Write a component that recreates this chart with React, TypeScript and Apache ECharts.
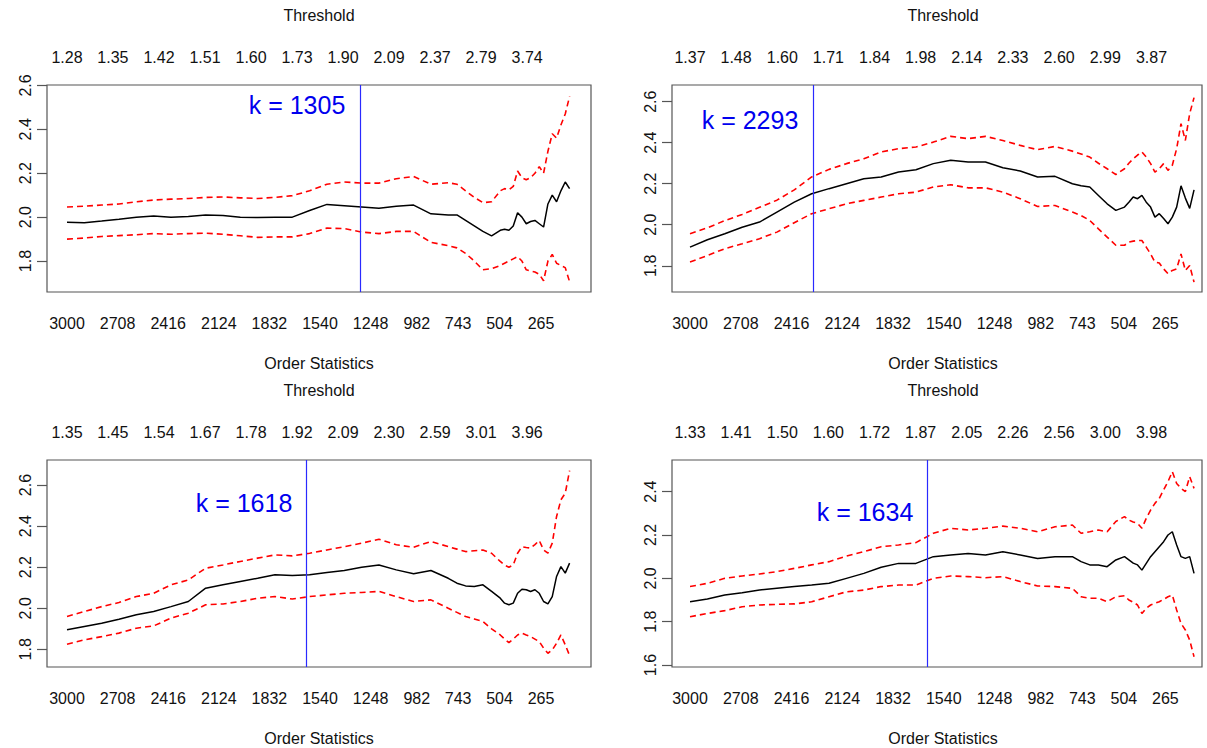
import React, { useEffect, useRef } from "react";
import * as echarts from "echarts";

const kGrid = [3000, 2900, 2800, 2700, 2600, 2500, 2400, 2300, 2200, 2100, 2000, 1900, 1800, 1700, 1600, 1500, 1400, 1300, 1200, 1100, 1000, 900, 800, 750, 700, 650, 600, 550, 500, 475, 450, 425, 400, 375, 350, 325, 300, 275, 250, 225, 200, 175, 150, 125, 100];

// Bottom axis tick labels (order statistics)
const orderTicks = [3000, 2708, 2416, 2124, 1832, 1540, 1248, 982, 743, 504, 265];
// Positions (in k) of the top "Threshold" labels
const thresholdPos = [3000, 2735, 2469, 2204, 1938, 1673, 1407, 1142, 876, 611, 345];

const thresholdTL = ["1.28", "1.35", "1.42", "1.51", "1.60", "1.73", "1.90", "2.09", "2.37", "2.79", "3.74"];
const thresholdTR = ["1.37", "1.48", "1.60", "1.71", "1.84", "1.98", "2.14", "2.33", "2.60", "2.99", "3.87"];
const thresholdBL = ["1.35", "1.45", "1.54", "1.67", "1.78", "1.92", "2.09", "2.30", "2.59", "3.01", "3.96"];
const thresholdBR = ["1.33", "1.41", "1.50", "1.60", "1.72", "1.87", "2.05", "2.26", "2.56", "3.00", "3.98"];

const kOpt = [1305, 2293, 1618, 1634];

const yTicksA = [1.8, 2.0, 2.2, 2.4, 2.6];
const yTicksB = [1.6, 1.8, 2.0, 2.2, 2.4];

// Top-left panel
const tlMid = [1.977, 1.975, 1.982, 1.99, 2.0, 2.005, 2.0, 2.003, 2.01, 2.008, 2.0, 1.998, 2.0, 2.0, 2.03, 2.058, 2.052, 2.046, 2.04, 2.05, 2.055, 2.015, 2.01, 2.01, 1.985, 1.96, 1.935, 1.915, 1.94, 1.945, 1.94, 1.96, 2.02, 2.0, 1.97, 1.98, 1.985, 1.97, 1.955, 2.06, 2.1, 2.07, 2.12, 2.16, 2.13];
const tlUp = [2.046, 2.05, 2.055, 2.06, 2.07, 2.078, 2.082, 2.085, 2.09, 2.092, 2.088, 2.085, 2.09, 2.098, 2.12, 2.15, 2.16, 2.155, 2.155, 2.175, 2.185, 2.15, 2.157, 2.15, 2.12, 2.09, 2.066, 2.07, 2.12, 2.13, 2.125, 2.14, 2.21, 2.18, 2.17, 2.18, 2.2, 2.23, 2.2, 2.3, 2.38, 2.36, 2.42, 2.47, 2.55];
const tlLo = [1.9, 1.905, 1.912, 1.916, 1.92, 1.925, 1.922, 1.925, 1.927, 1.922, 1.915, 1.908, 1.91, 1.91, 1.925, 1.95, 1.948, 1.932, 1.925, 1.935, 1.935, 1.885, 1.87, 1.86, 1.835, 1.8, 1.76, 1.765, 1.78, 1.79, 1.8, 1.81, 1.82, 1.8, 1.76, 1.755, 1.75, 1.74, 1.71, 1.8, 1.83, 1.79, 1.78, 1.77, 1.706];

// Top-right panel
const trMid = [1.891, 1.927, 1.956, 1.988, 2.013, 2.062, 2.11, 2.151, 2.176, 2.2, 2.224, 2.233, 2.257, 2.268, 2.298, 2.314, 2.306, 2.306, 2.278, 2.262, 2.233, 2.236, 2.2, 2.19, 2.184, 2.143, 2.102, 2.07, 2.086, 2.11, 2.135, 2.127, 2.143, 2.11, 2.086, 2.037, 2.054, 2.03, 2.005, 2.037, 2.086, 2.19, 2.13, 2.08, 2.17];
const trUp = [1.956, 1.985, 2.02, 2.05, 2.085, 2.12, 2.17, 2.233, 2.27, 2.298, 2.322, 2.355, 2.371, 2.379, 2.403, 2.431, 2.42, 2.431, 2.411, 2.387, 2.366, 2.382, 2.359, 2.345, 2.33, 2.3, 2.273, 2.245, 2.273, 2.3, 2.322, 2.34, 2.355, 2.33, 2.298, 2.257, 2.273, 2.298, 2.265, 2.29, 2.371, 2.493, 2.411, 2.542, 2.62];
const trLo = [1.818, 1.85, 1.883, 1.907, 1.932, 1.964, 2.01, 2.054, 2.078, 2.102, 2.119, 2.135, 2.151, 2.159, 2.184, 2.195, 2.18, 2.18, 2.159, 2.127, 2.089, 2.094, 2.062, 2.045, 2.021, 1.98, 1.94, 1.9, 1.9, 1.915, 1.92, 1.923, 1.923, 1.891, 1.858, 1.818, 1.813, 1.785, 1.761, 1.777, 1.785, 1.858, 1.777, 1.801, 1.72];

// Bottom-left panel
const blMid = [1.895, 1.911, 1.927, 1.947, 1.968, 1.984, 2.008, 2.033, 2.098, 2.114, 2.13, 2.146, 2.163, 2.16, 2.163, 2.174, 2.184, 2.2, 2.211, 2.187, 2.168, 2.184, 2.146, 2.122, 2.109, 2.106, 2.114, 2.082, 2.049, 2.025, 2.017, 2.025, 2.073, 2.093, 2.09, 2.082, 2.09, 2.073, 2.033, 2.021, 2.057, 2.155, 2.203, 2.171, 2.22];
const blUp = [1.96, 1.984, 2.008, 2.028, 2.057, 2.073, 2.114, 2.138, 2.195, 2.211, 2.228, 2.244, 2.26, 2.255, 2.268, 2.284, 2.3, 2.317, 2.336, 2.309, 2.297, 2.325, 2.3, 2.288, 2.276, 2.28, 2.284, 2.268, 2.228, 2.21, 2.2, 2.211, 2.268, 2.3, 2.296, 2.293, 2.31, 2.33, 2.284, 2.268, 2.317, 2.447, 2.528, 2.56, 2.67];
const blLo = [1.825, 1.846, 1.862, 1.879, 1.903, 1.914, 1.952, 1.976, 2.017, 2.021, 2.033, 2.049, 2.057, 2.045, 2.057, 2.065, 2.073, 2.077, 2.082, 2.057, 2.033, 2.041, 2.0, 1.98, 1.96, 1.948, 1.935, 1.9, 1.87, 1.85, 1.833, 1.85, 1.87, 1.879, 1.87, 1.862, 1.85, 1.838, 1.806, 1.781, 1.797, 1.83, 1.87, 1.822, 1.77];

// Bottom-right panel
const brMid = [1.892, 1.905, 1.923, 1.934, 1.946, 1.954, 1.962, 1.969, 1.977, 2.0, 2.023, 2.051, 2.069, 2.069, 2.1, 2.108, 2.115, 2.108, 2.123, 2.108, 2.092, 2.1, 2.1, 2.077, 2.062, 2.062, 2.054, 2.085, 2.1, 2.085, 2.07, 2.062, 2.038, 2.069, 2.1, 2.123, 2.146, 2.169, 2.2, 2.215, 2.154, 2.1, 2.092, 2.1, 2.023];
const brUp = [1.962, 1.977, 2.0, 2.011, 2.02, 2.031, 2.046, 2.062, 2.077, 2.103, 2.123, 2.146, 2.154, 2.165, 2.208, 2.231, 2.223, 2.231, 2.241, 2.231, 2.215, 2.238, 2.246, 2.208, 2.215, 2.223, 2.215, 2.262, 2.285, 2.269, 2.26, 2.254, 2.231, 2.277, 2.315, 2.346, 2.369, 2.408, 2.446, 2.492, 2.438, 2.415, 2.4, 2.469, 2.415];
const brLo = [1.823, 1.838, 1.851, 1.869, 1.877, 1.88, 1.882, 1.892, 1.915, 1.938, 1.946, 1.962, 1.969, 1.969, 2.0, 2.011, 2.008, 2.003, 2.008, 1.985, 1.965, 1.962, 1.954, 1.915, 1.908, 1.908, 1.892, 1.915, 1.92, 1.9, 1.89, 1.877, 1.838, 1.862, 1.877, 1.885, 1.892, 1.903, 1.915, 1.923, 1.854, 1.792, 1.762, 1.715, 1.638];

const FONT = "'Liberation Sans', Arial, Helvetica, sans-serif";

type Panel = {
  left: number; top: number; width: number; height: number;
  xMin: number; xMax: number; yMin: number; yMax: number;
  yTicks: number[]; thr: string[];
  mid: number[]; up: number[]; lo: number[];
  k: number; kx: number; ky: number; cx: number;
};

const panels: Panel[] = [
  { left: 47, top: 85, width: 544, height: 207, xMin: -23.6, xMax: 3115.4, yMin: 1.659, yMax: 2.602, yTicks: yTicksA, thr: thresholdTL, mid: tlMid, up: tlUp, lo: tlLo, k: kOpt[0], kx: 297, ky: 105, cx: 319 },
  { left: 672, top: 85, width: 530, height: 207, xMin: 54.2, xMax: 3103.6, yMin: 1.672, yMax: 2.6815, yTicks: yTicksA, thr: thresholdTR, mid: trMid, up: trUp, lo: trLo, k: kOpt[1], kx: 750, ky: 120, cx: 943 },
  { left: 47, top: 460, width: 544, height: 207, xMin: -23.6, xMax: 3115.4, yMin: 1.714, yMax: 2.722, yTicks: yTicksA, thr: thresholdBL, mid: blMid, up: blUp, lo: blLo, k: kOpt[2], kx: 244, ky: 503, cx: 319 },
  { left: 672, top: 460, width: 530, height: 207, xMin: 54.2, xMax: 3103.6, yMin: 1.591, yMax: 2.546, yTicks: yTicksB, thr: thresholdBR, mid: brMid, up: brUp, lo: brLo, k: kOpt[3], kx: 865, ky: 512, cx: 943 },
];

const pairs = (vals: number[]) => kGrid.map((k, i) => [k, vals[i]]);

export default function App() {
  const ref = useRef<HTMLDivElement>(null);
  useEffect(() => {
    if (!ref.current) return;
    const chart = echarts.init(ref.current, undefined, { renderer: "svg" });
    const grid: any[] = [];
    const xAxis: any[] = [];
    const yAxis: any[] = [];
    const series: any[] = [];
    const graphic: any[] = [];
    panels.forEach((p, i) => {
      grid.push({ left: p.left, top: p.top, width: p.width, height: p.height, show: true, borderColor: "#555", borderWidth: 1.2, backgroundColor: "transparent" });
      xAxis.push({
        type: "value", gridIndex: i, position: "bottom", inverse: true, min: p.xMin, max: p.xMax,
        axisLine: { show: false, onZero: false }, axisTick: { show: false }, splitLine: { show: false },
        axisLabel: { customValues: orderTicks, margin: 23, color: "#111", fontSize: 16, fontFamily: FONT, formatter: (v: number) => String(Math.round(v)) },
      });
      xAxis.push({
        type: "value", gridIndex: i, position: "top", inverse: true, min: p.xMin, max: p.xMax,
        axisLine: { show: false, onZero: false }, axisTick: { show: false }, splitLine: { show: false },
        axisLabel: {
          customValues: thresholdPos, margin: 20, color: "#111", fontSize: 16, fontFamily: FONT,
          formatter: (v: number) => {
            let best = 0;
            thresholdPos.forEach((t, j) => { if (Math.abs(t - v) < Math.abs(thresholdPos[best] - v)) best = j; });
            return p.thr[best];
          },
        },
      });
      yAxis.push({
        type: "value", gridIndex: i, position: "left", min: p.yMin, max: p.yMax,
        axisLine: { show: false, onZero: false }, splitLine: { show: false },
        axisTick: { show: true, inside: false, customValues: p.yTicks, length: 10, lineStyle: { color: "#555", width: 1.2 } },
        axisLabel: { customValues: p.yTicks, rotate: 90, margin: 14, color: "#111", fontSize: 16, fontFamily: FONT, formatter: (v: number) => v.toFixed(1) },
      });
      series.push({
        type: "line", xAxisIndex: 2 * i, yAxisIndex: i, data: pairs(p.up), showSymbol: false, silent: true,
        lineStyle: { color: "#ff0000", width: 1.6, type: [6, 4] },
      });
      series.push({
        type: "line", xAxisIndex: 2 * i, yAxisIndex: i, data: pairs(p.lo), showSymbol: false, silent: true,
        lineStyle: { color: "#ff0000", width: 1.6, type: [6, 4] },
      });
      series.push({
        type: "line", xAxisIndex: 2 * i, yAxisIndex: i, data: pairs(p.mid), showSymbol: false, silent: true,
        lineStyle: { color: "#000", width: 1.5 },
        markLine: { silent: true, symbol: "none", label: { show: false }, lineStyle: { color: "#2a2aff", width: 1.2, type: "solid" }, data: [{ xAxis: p.k }] },
      });
      const ty = p.top === 85 ? 15 : 390;
      graphic.push({ type: "text", x: p.cx, y: ty, style: { text: "Threshold", fontSize: 16, fontFamily: FONT, fill: "#111", textAlign: "center", textVerticalAlign: "middle" } });
      graphic.push({ type: "text", x: p.cx, y: p.top + p.height + 71, style: { text: "Order Statistics", fontSize: 16, fontFamily: FONT, fill: "#111", textAlign: "center", textVerticalAlign: "middle" } });
      graphic.push({ type: "text", x: p.kx, y: p.ky, style: { text: "k = " + p.k, fontSize: 25, fontFamily: FONT, fill: "#0000ee", textAlign: "center", textVerticalAlign: "middle" } });
    });
    chart.setOption({ animation: false, backgroundColor: "#fff", grid, xAxis, yAxis, series, graphic });
    return () => chart.dispose();
  }, []);
  return <div ref={ref} style={{ position: "fixed", left: 0, top: 0, width: 1207, height: 748 }} />;
}
